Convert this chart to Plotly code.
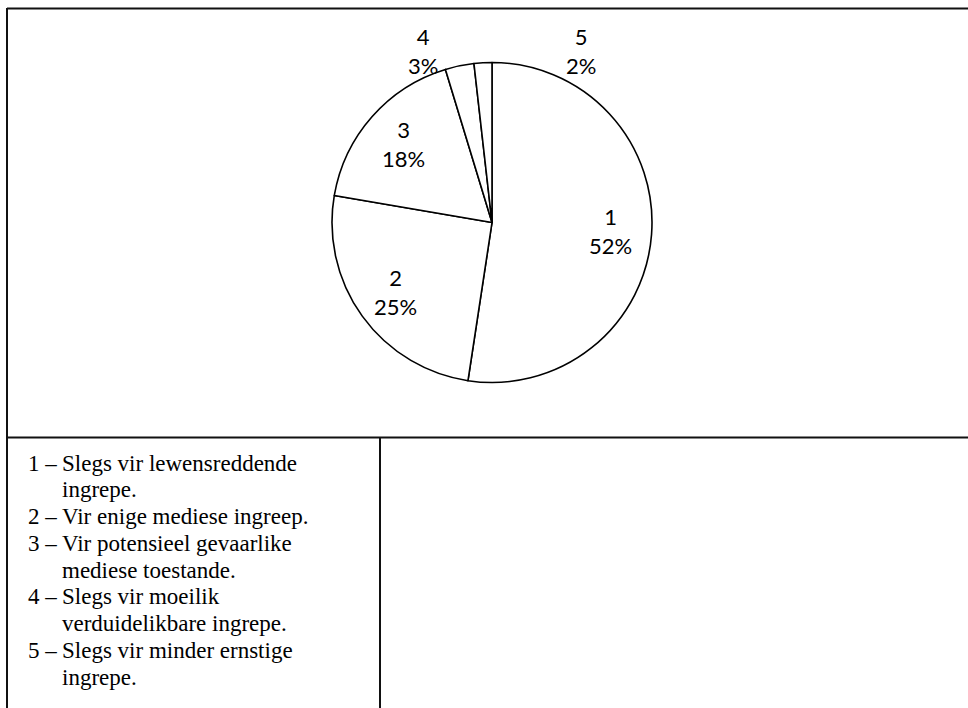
import math
import plotly.graph_objects as go

# ---- data ----
categories = ["1", "2", "3", "4", "5"]
values = [52.4, 25.3, 17.6, 2.9, 1.8]
legend_lines = [
    ("1 –", "Slegs vir lewensreddende"),
    ("", "ingrepe."),
    ("2 –", "Vir enige mediese ingreep."),
    ("3 –", "Vir potensieel gevaarlike"),
    ("", "mediese toestande."),
    ("4 –", "Slegs vir moeilik"),
    ("", "verduidelikbare ingrepe."),
    ("5 –", "Slegs vir minder ernstige"),
    ("", "ingrepe."),
]

# ---- layout constants (pixels) ----
W, H = 968, 708
CX, CY, R = 492, 222.5, 160
LINE_COLOR = "#111111"


def px(x):
    return x / W


def py(y):
    return 1 - y / H


fig = go.Figure()
fig.add_trace(go.Pie(
    labels=categories,
    values=values,
    sort=False,
    direction="clockwise",
    rotation=0,
    textinfo="none",
    hoverinfo="label+percent",
    marker=dict(colors=["white"] * len(values), line=dict(color="black", width=1.6)),
    domain=dict(x=[px(CX - R), px(CX + R)], y=[py(CY + R), py(CY - R)]),
    showlegend=False,
))

annotations = []
total = sum(values)
cum = 0.0
# outside label positions for small slices (pixel positions, Excel-style placement)
outside_pos = {"4": (423, 51), "5": (581, 51)}
for cat, v in zip(categories, values):
    pct = v / total
    mid = (cum + pct / 2) * 2 * math.pi
    cum += pct
    text = f"{cat}<br>{round(pct * 100):d}%"
    if cat in outside_pos:
        x, y = outside_pos[cat]
    else:
        rr = 0.74 * R
        x = CX + rr * math.sin(mid)
        y = CY - rr * math.cos(mid)
    annotations.append(dict(
        x=px(x), y=py(y), xref="paper", yref="paper", text=text,
        showarrow=False, xanchor="center", yanchor="middle", align="center",
        font=dict(family="Lato, Open Sans, sans-serif", size=22, color="black"),
    ))

# legend text block
y0, dy = 463, 26.75
for i, (num, txt) in enumerate(legend_lines):
    y = y0 + i * dy
    if num:
        annotations.append(dict(
            x=px(26), y=py(y), xref="paper", yref="paper", text=num,
            showarrow=False, xanchor="left", yanchor="middle",
            font=dict(family="Liberation Serif, Times New Roman, serif", size=23, color="black"),
        ))
    annotations.append(dict(
        x=px(60), y=py(y), xref="paper", yref="paper", text=txt,
        showarrow=False, xanchor="left", yanchor="middle",
        font=dict(family="Liberation Serif, Times New Roman, serif", size=23, color="black"),
    ))

shapes = [
    dict(type="line", xref="paper", yref="paper", x0=px(7), x1=1, y0=py(8.5), y1=py(8.5),
         line=dict(color=LINE_COLOR, width=2)),
    dict(type="line", xref="paper", yref="paper", x0=px(7), x1=px(7), y0=py(8), y1=0,
         line=dict(color=LINE_COLOR, width=2)),
    dict(type="line", xref="paper", yref="paper", x0=px(7), x1=1, y0=py(437.5), y1=py(437.5),
         line=dict(color=LINE_COLOR, width=2)),
    dict(type="line", xref="paper", yref="paper", x0=px(380), x1=px(380), y0=py(437.5), y1=0,
         line=dict(color=LINE_COLOR, width=2)),
]

fig.update_layout(
    width=W, height=H,
    margin=dict(l=0, r=0, t=0, b=0),
    paper_bgcolor="white", plot_bgcolor="white",
    annotations=annotations, shapes=shapes,
)

fig.write_html("out.html")
